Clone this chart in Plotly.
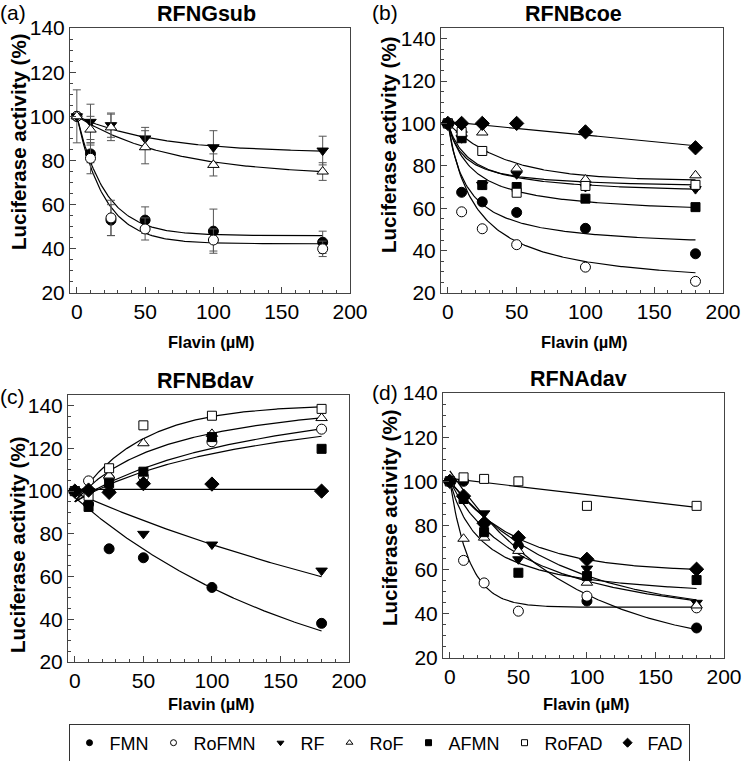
import numpy as np
import plotly.graph_objects as go

# ---------------- data ----------------
flavin_uM = [0, 10, 25, 50, 100, 180]
series_names = ["FMN", "RoFMN", "RF", "RoF", "AFMN", "RoFAD", "FAD"]

# (a) RFNGsub  (mean, error)
a_FMN = [100, 83, 53, 53, 48, 43]
a_RoFMN = [100, 81, 54, 49, 44, 40]
a_RF = [100, 97.5, 96, 90, 86, 84.5]
a_RoF = [100, 94, 95, 86, 78, 75]
a_FMN_err = [12, 4, 7, 6, 10, 5]
a_RoFMN_err = [0, 7, 8, 5, 5, 3.5]
a_RF_err = [0, 8, 5.5, 5, 7.5, 6.5]
a_RoF_err = [0, 6, 6, 7.5, 5, 4]

# (b) RFNBcoe
b_FMN = [100, 67.5, 63, 58, 50.5, 38.5]
b_RoFMN = [100, 58.3, 50.3, 42.8, 32.2, 25.5]
b_RF = [100, 93, 71, 76, 70, 69]
b_RoF = [100, 97, 95.7, 78.7, 73.5, 75.5]
b_AFMN = [100, 93, 70.9, 70, 64.5, 60.5]
b_RoFAD = [100, 96, 87, 67.3, 70.5, 71]
b_FAD = [100, 100, 100, 100, 96, 88.5]

# (c) RFNBdav
c_FMN = [100, 94, 73, 68.8, 54.9, 38.1]
c_RoFMN = [100, 104.8, 106, 106.8, 123.1, 129]
c_RF = [100, 100, 99, 80, 75, 62.8]
c_RoF = [100, 101, 107.3, 122.4, 126.8, 134.2]
c_AFMN = [100, 92.6, 103.7, 109.1, 125.3, 119.8]
c_RoFAD = [100, 97.8, 110.7, 130.8, 135.3, 138.5]
c_FAD = [100, 100.5, 99.4, 103.5, 103.3, 100]

# (d) RFNAdav
d_FMN = [100, 100, 81, 70.8, 45.8, 33.6]
d_RoFMN = [100, 64.2, 54, 41.2, 48, 42.7]
d_RF = [100, 91.7, 85.5, 64.7, 60.5, 45]
d_RoF = [100, 74, 74.5, 68.5, 54.1, 43.8]
d_AFMN = [100, 92, 77, 58.6, 57.1, 55.3]
d_RoFAD = [100, 101.8, 101.1, 100, 88.9, 88.9]
d_FAD = [100, 93.3, 81, 74.5, 64.7, 60.2]

# fitted-curve parameters (model, params)
# exp: y = plat + (y0 - plat) * exp(-k x)   params (y0, plat, k)
# hyp: y = y0 + A x / (K + x)               params (y0, A, K)
# lin: y = y0 + s x                         params (y0, s)
a_fits = {"FMN": ("exp", (100, 46, 0.048)), "RoFMN": ("exp", (100, 42.3, 0.05)),
          "RF": ("exp", (100, 83.5, 0.017)), "RoF": ("exp", (100, 73, 0.0145))}
b_fits = {"FMN": ("hyp", (100, -59.2, 13.8)), "RoFMN": ("hyp", (100, -78.4, 20.3)),
          "RF": ("hyp", (100, -33.8, 16.3)), "RoF": ("exp", (100, 73, 0.024)),
          "AFMN": ("hyp", (100, -43.7, 18.3)), "RoFAD": ("hyp", (100, -30.9, 11.8)),
          "FAD": ("lin", (100.8, -0.063))}
c_fits = {"FMN": ("exp", (97, 0, 0.00574)), "RoFMN": ("hyp", (95, 62.1, 147.7)),
          "RF": ("exp", (99.2, 0, 0.0028)), "RoF": ("hyp", (95, 54.7, 70.4)),
          "AFMN": ("hyp", (95, 55.9, 148)), "RoFAD": ("exp", (95, 140.5, 0.021)),
          "FAD": ("lin", (100.8, 0.0))}
d_fits = {"FMN": ("exp", (104.7, 22, 0.0113)), "RoFMN": ("exp", (100, 43, 0.07)),
          "RF": ("exp", (100, 40, 0.0125)), "RoF": ("hyp", (100, -71.7, 58.7)),
          "AFMN": ("hyp", (100, -55.1, 24.4)), "RoFAD": ("lin", (101.3, -0.0728)),
          "FAD": ("exp", (100, 59, 0.02))}

x_ticks = [0, 50, 100, 150, 200]
y_ticks = [20, 40, 60, 80, 100, 120, 140]

# ---------------- styling ----------------
FONT = "Liberation Sans, Arial, Helvetica, sans-serif"
W, H = 742, 761
def px(x):
    return x / W
def py(y):
    return 1 - y / H

symbols = {"FMN": ("circle", "black"), "RoFMN": ("circle", "white"),
           "RF": ("triangle-down", "black"), "RoF": ("triangle-up", "white"),
           "AFMN": ("square", "black"), "RoFAD": ("square", "white"),
           "FAD": ("diamond", "black")}
msize = {"circle": 10, "triangle-down": 10, "triangle-up": 10, "square": 9, "diamond": 11}

def fit_curve(model, p, x):
    if model == "exp":
        y0, plat, k = p
        return plat + (y0 - plat) * np.exp(-k * x)
    if model == "hyp":
        y0, A, K = p
        return y0 + A * x / (K + x)
    y0, s = p
    return y0 + s * x

panels = [
    dict(lab="(a)", title="RFNGsub", xd=(70, 350), yd=(28, 293), yr=(20, 140),
         data={"FMN": a_FMN, "RoFMN": a_RoFMN, "RF": a_RF, "RoF": a_RoF},
         err={"FMN": a_FMN_err, "RoFMN": a_RoFMN_err, "RF": a_RF_err, "RoF": a_RoF_err},
         fits=a_fits, labpos=(13, 12), titpos=(207, 14), xtit=(211, 342), ytit=(18, 142)),
    dict(lab="(b)", title="RFNBcoe", xd=(441, 723), yd=(28, 293), yr=(20, 145),
         data={"FMN": b_FMN, "RoFMN": b_RoFMN, "RF": b_RF, "RoF": b_RoF,
               "AFMN": b_AFMN, "RoFAD": b_RoFAD, "FAD": b_FAD},
         err=None, fits=b_fits, labpos=(385, 12), titpos=(573, 14), xtit=(584, 342), ytit=(389, 145)),
    dict(lab="(c)", title="RFNBdav", xd=(68, 349), yd=(395, 662), yr=(20, 145),
         data={"FMN": c_FMN, "RoFMN": c_RoFMN, "RF": c_RF, "RoF": c_RoF,
               "AFMN": c_AFMN, "RoFAD": c_RoFAD, "FAD": c_FAD},
         err=None, fits=c_fits, labpos=(12, 396), titpos=(205, 381), xtit=(211, 704), ytit=(17, 545)),
    dict(lab="(d)", title="RFNAdav", xd=(443, 724), yd=(393, 658), yr=(20, 140),
         data={"FMN": d_FMN, "RoFMN": d_RoFMN, "RF": d_RF, "RoF": d_RoF,
               "AFMN": d_AFMN, "RoFAD": d_RoFAD, "FAD": d_FAD},
         err=None, fits=d_fits, labpos=(385, 392), titpos=(578, 379), xtit=(586, 704), ytit=(389, 518)),
]

fig = go.Figure()
annotations = []
layout_axes = {}
xfine = np.linspace(0, 180, 181)

for i, P in enumerate(panels, start=1):
    xa = "x" if i == 1 else f"x{i}"
    ya = "y" if i == 1 else f"y{i}"
    # curves
    for name in series_names:
        if name not in P["fits"]:
            continue
        model, par = P["fits"][name]
        fig.add_trace(go.Scatter(x=xfine, y=fit_curve(model, par, xfine), mode="lines",
                                 line=dict(color="black", width=1.2), showlegend=False,
                                 hoverinfo="skip", xaxis=xa, yaxis=ya))
    # markers
    for name in series_names:
        if name not in P["data"]:
            continue
        sym, fill = symbols[name]
        kw = {}
        if P["err"] is not None:
            kw["error_y"] = dict(type="data", array=P["err"][name], visible=True,
                                 color="#555555", thickness=1, width=4)
        fig.add_trace(go.Scatter(x=flavin_uM, y=P["data"][name], mode="markers", name=name,
                                 marker=dict(symbol=sym, size=msize[sym], color=fill,
                                             line=dict(color="black", width=1)),
                                 showlegend=False, xaxis=xa, yaxis=ya, **kw))
    xkey = "xaxis" if i == 1 else f"xaxis{i}"
    ykey = "yaxis" if i == 1 else f"yaxis{i}"
    axcommon = dict(showgrid=False, zeroline=False, showline=True, mirror=True, automargin=False,
                    linecolor="#444444", linewidth=1, ticks="inside", tickcolor="#444444",
                    ticklabeloverflow="allow",
                    tickfont=dict(family=FONT, size=21, color="black"))
    layout_axes[xkey] = dict(domain=[px(P["xd"][0]), px(P["xd"][1])], range=[-5, 200],
                             tickvals=x_ticks, ticklen=6, anchor=ya,
                             minor=dict(dtick=10, ticks="inside", ticklen=3, tickcolor="#444444"),
                             **axcommon)
    layout_axes[ykey] = dict(domain=[py(P["yd"][1]), py(P["yd"][0])], range=list(P["yr"]),
                             tickvals=y_ticks, ticklen=6, anchor=xa,
                             minor=dict(dtick=5, ticks="inside", ticklen=3, tickcolor="#444444"),
                             **axcommon)
    annotations += [
        dict(text=P["lab"], x=px(P["labpos"][0]), y=py(P["labpos"][1]), xref="paper", yref="paper",
             showarrow=False, font=dict(family=FONT, size=21, color="black"), xanchor="center", yanchor="middle"),
        dict(text="<b>%s</b>" % P["title"], x=px(P["titpos"][0]), y=py(P["titpos"][1]), xref="paper",
             yref="paper", showarrow=False, font=dict(family=FONT, size=21.5, color="black"),
             xanchor="center", yanchor="middle"),
        dict(text="<b>Flavin (µM)</b>", x=px(P["xtit"][0]), y=py(P["xtit"][1]), xref="paper", yref="paper",
             showarrow=False, font=dict(family=FONT, size=16.5, color="black"), xanchor="center", yanchor="middle"),
        dict(text="<b>Luciferase activity (%)</b>", x=px(P["ytit"][0]), y=py(P["ytit"][1]), xref="paper",
             yref="paper", showarrow=False, textangle=-90, font=dict(family=FONT, size=20.5, color="black"),
             xanchor="center", yanchor="middle"),
    ]

# legend-only entries (small markers)
for name in series_names:
    sym, fill = symbols[name]
    fig.add_trace(go.Scatter(x=[None], y=[None], mode="markers", name=name,
                             marker=dict(symbol=sym, size=6 if sym != "diamond" else 7, color=fill,
                                         line=dict(color="black", width=1)),
                             showlegend=True, xaxis="x", yaxis="y"))

fig.update_layout(
    template="none",
    width=W, height=H, margin=dict(l=0, r=0, t=0, b=0, autoexpand=False),
    paper_bgcolor="white", plot_bgcolor="white",
    font=dict(family=FONT, color="black"),
    annotations=annotations,
    legend=dict(orientation="h", x=px(379), y=py(743), xanchor="center", yanchor="middle",
                bordercolor="#333333", borderwidth=1, font=dict(family=FONT, size=18, color="black"),
                itemwidth=30, bgcolor="white"),
    **layout_axes,
)

fig.write_html("out.html", config={"displayModeBar": False},
               post_script="document.body.style.margin='0px';document.body.style.overflow='hidden';")
